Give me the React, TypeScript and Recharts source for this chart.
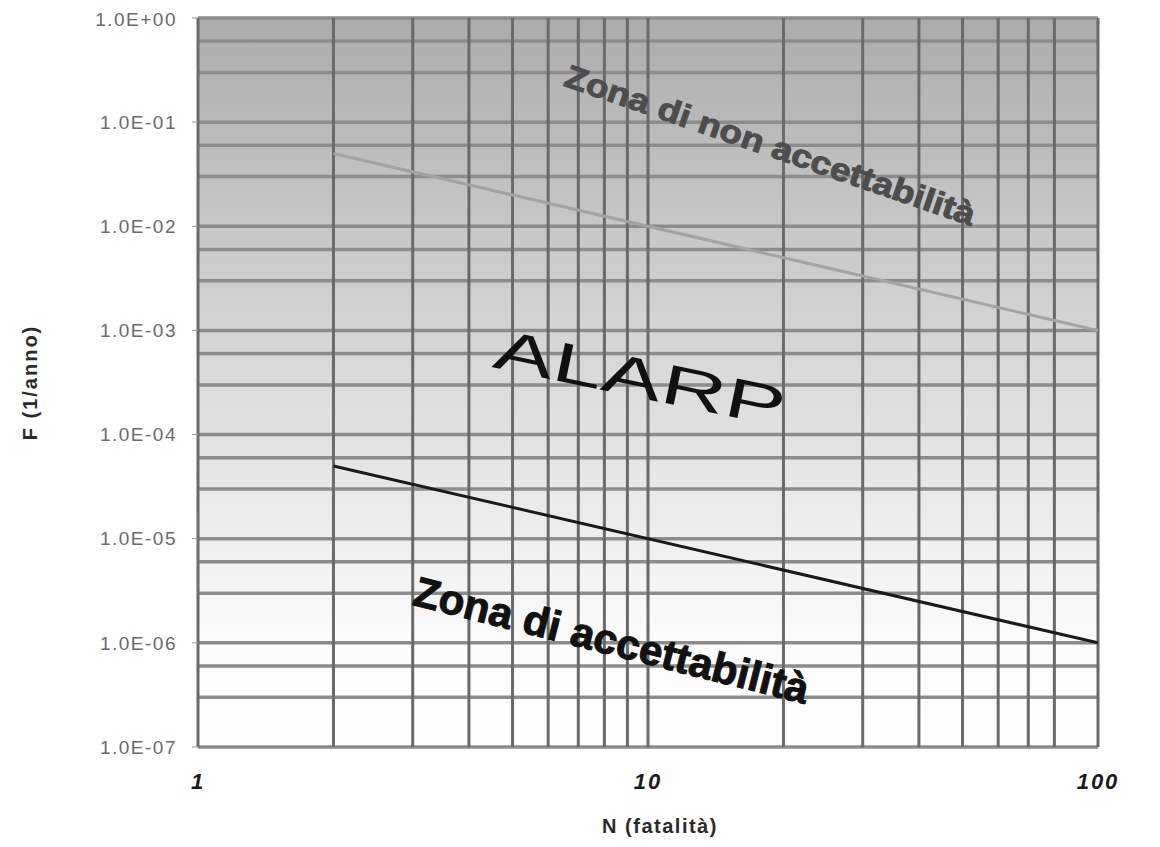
import React from "react";
import {
  LineChart,
  Line,
  XAxis,
  YAxis,
  CartesianGrid,
  ReferenceDot,
  Label,
} from "recharts";

// F-N curve limits (log-log)
const fatalities = [2, 100];
const unacceptableLimit = [5e-2, 1e-3];
const acceptableLimit = [5e-5, 1e-6];

const xTicks = [1, 10, 100];
const yTicks = [1e-7, 1e-6, 1e-5, 1e-4, 1e-3, 1e-2, 1e-1, 1];

const zoneTexts = ["Zona di non accettabilità", "ALARP", "Zona di accettabilità"];
const zoneN = [18.7, 9.6, 8.3];
const zoneF = [0.06, 3.5e-4, 1.06e-6];

const data = fatalities.map((n, i) => ({
  n,
  upper: unacceptableLimit[i],
  lower: acceptableLimit[i],
}));

// minor log grid: 1..9 in each decade
const minorValues = (from: number, to: number) => {
  const out: number[] = [];
  for (let k = from; k < to; k++) {
    for (let m = 1; m <= 9; m++) out.push(m * Math.pow(10, k));
  }
  out.push(Math.pow(10, to));
  return out;
};
const hGrid = minorValues(-7, 0);
const vGrid = minorValues(0, 2);

const sciFormat = (v: number) => {
  const e = Math.round(Math.log10(v));
  const sign = e < 0 ? "-" : "+";
  return `1.0E${sign}${String(Math.abs(e)).padStart(2, "0")}`;
};

const zoneStyles = [
  { angle: 19, size: 32, weight: 700, fill: "#4d4d4d", len: 432, stroke: "#4d4d4d", sw: 1 },
  { angle: 11.7, size: 56, weight: 400, fill: "#111", len: 296, stroke: "none", sw: 0 },
  { angle: 14.2, size: 42, weight: 700, fill: "#111", len: 406, stroke: "#111", sw: 1 },
];

function ZoneText(idx: number) {
  const st = zoneStyles[idx];
  return (props: any) => (
    <text
      x={props.cx}
      y={props.cy}
      transform={`rotate(${st.angle} ${props.cx} ${props.cy})`}
      textAnchor="middle"
      dominantBaseline="central"
      fontSize={st.size}
      fontWeight={st.weight}
      fontFamily="'Liberation Sans Narrow', 'Liberation Sans', Arial, sans-serif"
      fill={st.fill}
      stroke={st.stroke}
      strokeWidth={st.sw}
      textLength={st.len}
      lengthAdjust="spacingAndGlyphs"
    >
      {zoneTexts[idx]}
    </text>
  );
}

export default function App() {
  return (
    <div style={{ width: 1144, height: 831, fontFamily: "'Liberation Sans', Arial, sans-serif" }}>
      <LineChart
        width={1144}
        height={831}
        data={data}
        margin={{ top: 10, right: 54, left: 0, bottom: 32 }}
      >
        <defs>
          <linearGradient id="bgGrad" x1="0" y1="0" x2="0" y2="1">
            <stop offset="0%" stopColor="#acacac" />
            <stop offset="35%" stopColor="#cdcdcd" />
            <stop offset="60%" stopColor="#e4e4e4" />
            <stop offset="85%" stopColor="#fbfbfb" />
            <stop offset="100%" stopColor="#ffffff" />
          </linearGradient>
        </defs>
        <CartesianGrid
          fill="url(#bgGrad)"
          fillOpacity={1}
          vertical={false}
          horizontalValues={hGrid}
          stroke="#8c8c8c"
          strokeWidth={3.5}
          strokeDasharray=""
        />
        <CartesianGrid
          horizontal={false}
          verticalValues={vGrid}
          stroke="#6a6a6a"
          strokeWidth={3}
          strokeDasharray=""
        />
        <XAxis
          dataKey="n"
          type="number"
          scale="log"
          domain={[1, 100]}
          ticks={xTicks}
          allowDataOverflow
          axisLine={false}
          tickLine={false}
          tickSize={6}
          tickMargin={20}
          height={60}
          tick={{ fill: "#1a1a1a", fontSize: 22, fontWeight: 700, fontStyle: "italic", letterSpacing: 2 }}
        >
          <Label
            value="N (fatalità)"
            position="bottom"
            offset={12}
            dx={12}
            style={{ fill: "#2a2a2a", fontSize: 20, fontWeight: 700, letterSpacing: 1.5 }}
          />
        </XAxis>
        <YAxis
          type="number"
          scale="log"
          domain={[1e-7, 1]}
          ticks={yTicks}
          allowDataOverflow
          tickFormatter={sciFormat}
          axisLine={false}
          tickLine={{ stroke: "#999" }}
          tickSize={6}
          tickMargin={15}
          width={190}
          tick={{ fill: "#6a6a6a", fontSize: 19, letterSpacing: 1.5 }}
        >
          <Label
            value="F (1/anno)"
            angle={-90}
            position="insideLeft"
            offset={22}
            style={{ textAnchor: "middle", fill: "#2a2a2a", fontSize: 20, fontWeight: 700, letterSpacing: 2 }}
          />
        </YAxis>
        <Line
          dataKey="upper"
          stroke="#a3a3a3"
          strokeWidth={3}
          dot={false}
          isAnimationActive={false}
          type="linear"
        />
        <Line
          dataKey="lower"
          stroke="#1a1a1a"
          strokeWidth={3}
          dot={false}
          isAnimationActive={false}
          type="linear"
        />
        {zoneTexts.map((t, i) => (
          <ReferenceDot
            key={t}
            x={zoneN[i]}
            y={zoneF[i]}
            r={0}
            shape={ZoneText(i)}
          />
        ))}
      </LineChart>
    </div>
  );
}
